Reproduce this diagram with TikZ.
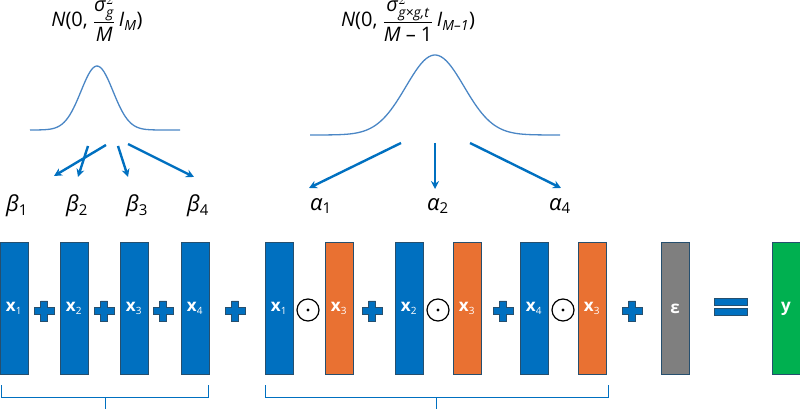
\documentclass[tikz,border=0pt]{standalone}
\usepackage{fontspec}
\setmainfont{Open Sans}
\usetikzlibrary{arrows.meta}
\definecolor{bblue}{HTML}{0070C0}
\definecolor{borange}{HTML}{E97132}
\definecolor{bgray}{HTML}{7F7F7F}
\definecolor{bgreen}{HTML}{00B050}
\definecolor{bdark}{HTML}{264F6E}
\definecolor{cblue}{HTML}{4A86C5}
\begin{document}
\begin{tikzpicture}[x=1pt,y=-1pt,
  bar/.style={draw=bdark,line width=1pt,minimum width=28pt,minimum height=131pt,inner sep=0pt,text=white,font=\fontsize{17}{20}\selectfont},
  plus/.style={fill=bblue,draw=bdark,line width=0.6pt},
  odot/.style={circle,draw=black,line width=1.2pt,minimum size=22pt,inner sep=0pt},
  arr/.style={-{Stealth[length=8pt,width=8pt]},bblue,line width=2.4pt},
  brk/.style={draw=bblue,line width=1pt},
  lab/.style={font=\fontsize{22}{26}\selectfont},
  fm/.style={font=\fontsize{20}{24}\selectfont}]
\useasboundingbox (0,0) rectangle (800,419);
\newcommand{\xl}[1]{\textbf{x}\textsubscript{\fontsize{10}{10}\selectfont #1}}
\newcommand{\plusat}[3]{\path[plus] (#1-10,#2-3.5) -- (#1-3.5,#2-3.5) -- (#1-3.5,#2-10) -- (#1+3.5,#2-10) -- (#1+3.5,#2-3.5) -- (#1+10,#2-3.5) -- (#1+10,#2+3.5) -- (#1+3.5,#2+3.5) -- (#1+3.5,#2+10) -- (#1-3.5,#2+10) -- (#1-3.5,#2+3.5) -- (#1-10,#2+3.5) -- cycle;}
% bars
\node[bar,fill=bblue] (b1) at (14,308.5) {\xl{1}};
\node[bar,fill=bblue] (b2) at (74,308.5) {\xl{2}};
\node[bar,fill=bblue] (b3) at (134,308.5) {\xl{3}};
\node[bar,fill=bblue] (b4) at (195,308.5) {\xl{4}};
\node[bar,fill=bblue] (i1) at (279,308.5) {\xl{1}};
\node[bar,fill=borange] (i2) at (339,308.5) {\xl{3}};
\node[bar,fill=bblue] (i3) at (409,308.5) {\xl{2}};
\node[bar,fill=borange] (i4) at (467,308.5) {\xl{3}};
\node[bar,fill=bblue] (i5) at (534,308.5) {\xl{4}};
\node[bar,fill=borange] (i6) at (592,308.5) {\xl{3}};
\node[bar,fill=bgray] (eps) at (675,308.5) {\textbf{ε}};
\node[bar,fill=bgreen] (y) at (786,308.5) {\textbf{y}};
% operators
\plusat{44}{311}{}\plusat{104}{311}{}\plusat{163}{311}{}\plusat{235}{311}{}
\plusat{372}{311}{}\plusat{503}{311}{}\plusat{632}{311}{}
\node[odot] (o1) at (308,310) {}; \fill (o1) circle (1.6pt);
\node[odot] (o2) at (438,310) {}; \fill (o2) circle (1.6pt);
\node[odot] (o3) at (563,310) {}; \fill (o3) circle (1.6pt);
\path[plus] (714,298) rectangle (747,305);
\path[plus] (714,308) rectangle (747,315);
% brackets
\draw[brk] (1,385) -- (1,397) -- (208,397) -- (208,385);
\draw[brk] (105,397) -- (105,409);
\draw[brk] (265,385) -- (265,397) -- (608,397) -- (608,385);
\draw[brk] (436,397) -- (436,409);
% bell curves
\draw[cblue,line width=1.3pt] plot[domain=30:180,samples=80] (\x,{130-64*exp(-((\x-97)/16)^2/2)});
\draw[cblue,line width=1.3pt] plot[domain=310:560,samples=100] (\x,{135-80*exp(-((\x-435)/29)^2/2)});
% formulas
\node[fm,anchor=base] (f1) at (97,27) {\textit{N}(0, $\displaystyle\frac{\mbox{\textit{σ}}^2_{\mbox{\fontsize{14}{14}\selectfont\textit{g}}}}{\mbox{\textit{M}}}$\,\textit{I}\textsubscript{\fontsize{14}{14}\selectfont\textit{M}})};
\node[fm,anchor=base] (f2) at (408,27) {\textit{N}(0, $\displaystyle\frac{\mbox{\textit{σ}}^2_{\mbox{\fontsize{14}{14}\selectfont\textit{g×g,t}}}}{\mbox{\textit{M} – 1}}$\,\textit{I}\textsubscript{\fontsize{14}{14}\selectfont\textit{M–1}})};
% coefficient labels
\node[lab] (be1) at (17,206) {\textit{β}\textsubscript{\fontsize{15}{15}\selectfont 1}};
\node[lab] (be2) at (77,206) {\textit{β}\textsubscript{\fontsize{15}{15}\selectfont 2}};
\node[lab] (be3) at (137,206) {\textit{β}\textsubscript{\fontsize{15}{15}\selectfont 3}};
\node[lab] (be4) at (198,206) {\textit{β}\textsubscript{\fontsize{15}{15}\selectfont 4}};
\node[lab] (al1) at (321,206) {\textit{α}\textsubscript{\fontsize{15}{15}\selectfont 1}};
\node[lab] (al2) at (438,206) {\textit{α}\textsubscript{\fontsize{15}{15}\selectfont 2}};
\node[lab] (al4) at (560,206) {\textit{α}\textsubscript{\fontsize{15}{15}\selectfont 4}};
\coordinate (s1) at (106,145); \coordinate (s2) at (88,146);
\coordinate (s3) at (118,146); \coordinate (s4) at (128,144);
\coordinate (t1) at (401,143); \coordinate (t2) at (435,143); \coordinate (t3) at (470,143);
\draw[arr] (s1) -- (54,176);
\draw[arr] (s2) -- (78,177);
\draw[arr] (s3) -- (128,177);
\draw[arr] (s4) -- (194,177);
\draw[arr] (t1) -- (309,188);
\draw[arr] (t2) -- (435,189);
\draw[arr] (t3) -- (561,188);
\end{tikzpicture}
\end{document}
